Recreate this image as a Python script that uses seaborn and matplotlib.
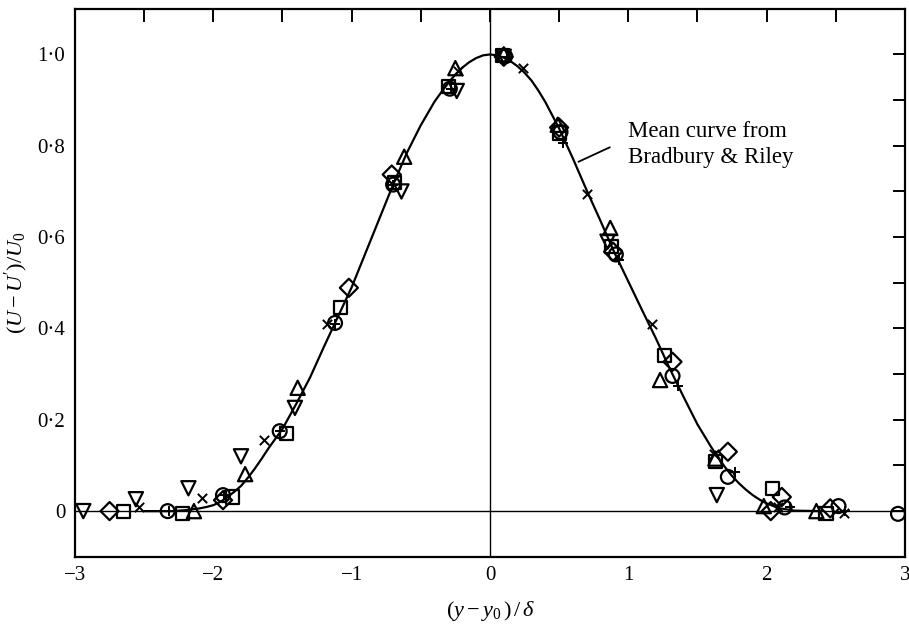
import matplotlib
matplotlib.use("Agg")
import matplotlib.pyplot as plt
import seaborn as sns
import numpy as np
from matplotlib.ticker import MultipleLocator, FixedLocator, FixedFormatter

# ---- data ----
curve_x = [-2.5, -2.3, -2.2, -2.1, -2.05, -2.0, -1.95, -1.9, -1.85, -1.8, -1.75, -1.7, -1.65, -1.6,
           -1.5, -1.4, -1.3, -1.2, -1.1, -1.0, -0.9, -0.8, -0.7, -0.6, -0.5, -0.4, -0.35, -0.3,
           -0.25, -0.2, -0.15, -0.1, -0.05, 0.0, 0.05, 0.1, 0.15, 0.2, 0.25, 0.3, 0.35, 0.4,
           0.5, 0.6, 0.7, 0.8, 0.9, 1.0, 1.1, 1.2, 1.3, 1.4, 1.5, 1.6, 1.65, 1.7, 1.75, 1.8,
           1.85, 1.9, 1.95, 2.0, 2.05, 2.1, 2.2, 2.4]
curve_y = [0.0, 0.0, 0.002, 0.006, 0.009, 0.013, 0.02, 0.03, 0.042, 0.055, 0.073, 0.093, 0.115, 0.138,
           0.18, 0.235, 0.293, 0.36, 0.425, 0.49, 0.565, 0.64, 0.715, 0.785, 0.845, 0.897, 0.918, 0.938,
           0.956, 0.971, 0.983, 0.992, 0.998, 1.0, 0.998, 0.993, 0.985, 0.974, 0.96, 0.943, 0.921, 0.896,
           0.838, 0.772, 0.702, 0.635, 0.566, 0.503, 0.44, 0.378, 0.312, 0.25, 0.19, 0.14, 0.117, 0.096,
           0.077, 0.061, 0.047, 0.035, 0.025, 0.017, 0.011, 0.006, 0.001, 0.0]

circle_x = [-2.33, -1.93, -1.52, -1.12, -0.70, -0.29, 0.11, 0.51, 0.91, 1.32, 1.72, 2.13, 2.52, 2.95]
circle_y = [0.0, 0.035, 0.175, 0.412, 0.715, 0.925, 0.996, 0.83, 0.562, 0.296, 0.075, 0.008, 0.011, -0.006]

square_x = [-2.65, -2.22, -1.86, -1.47, -1.08, -0.69, -0.30, 0.09, 0.50, 0.88, 1.26, 1.63, 2.04, 2.43]
square_y = [0.0, -0.005, 0.031, 0.17, 0.445, 0.72, 0.93, 0.997, 0.828, 0.58, 0.34, 0.108, 0.05, -0.005]

tri_up_x = [-2.14, -1.77, -1.39, -0.62, -0.25, 0.10, 0.49, 0.87, 1.23, 1.63, 1.98, 2.36]
tri_up_y = [0.0, 0.081, 0.27, 0.776, 0.97, 1.0, 0.846, 0.62, 0.287, 0.115, 0.011, 0.0]

tri_down_x = [-2.94, -2.56, -2.18, -1.80, -1.41, -0.64, -0.24, 0.10, 0.85, 1.64]
tri_down_y = [0.0, 0.026, 0.05, 0.12, 0.226, 0.70, 0.92, 0.995, 0.59, 0.035]

diamond_x = [-2.75, -1.93, -1.02, -0.71, 0.10, 0.50, 0.89, 1.32, 1.72, 2.03, 2.11, 2.46]
diamond_y = [0.0, 0.024, 0.489, 0.737, 0.995, 0.84, 0.568, 0.327, 0.13, 0.0, 0.031, 0.006]

cross_x = [-2.54, -2.08, -1.63, -1.18, -0.23, 0.24, 0.70, 1.17, 1.62, 2.08, 2.56]
cross_y = [0.01, 0.028, 0.156, 0.41, 0.963, 0.97, 0.695, 0.41, 0.125, 0.01, -0.004]

plus_x = [-2.32, -1.92, -1.52, -1.12, -0.70, -0.28, 0.12, 0.53, 0.93, 1.36, 1.77, 2.17, 2.57]
plus_y = [0.0, 0.035, 0.175, 0.41, 0.715, 0.925, 0.995, 0.807, 0.55, 0.274, 0.086, 0.01, 0.0]

x_tick_pos = [-3, -2, -1, 0, 1, 2, 3]
x_tick_labels = ["\u22123", "\u22122", "\u22121", "0", "1", "2", "3"]
y_tick_pos = [0.0, 0.2, 0.4, 0.6, 0.8, 1.0]
y_tick_labels = ["0", "0\u00b72", "0\u00b74", "0\u00b76", "0\u00b78", "1\u00b70"]

annot_text = "Mean curve from\nBradbury & Riley"

# ---- style ----
sns.set_theme(style="white")
plt.rcParams["font.family"] = ["Liberation Serif", "DejaVu Serif"]
plt.rcParams["mathtext.fontset"] = "custom"
plt.rcParams["mathtext.rm"] = "Liberation Serif"
plt.rcParams["mathtext.it"] = "Liberation Serif:italic"
plt.rcParams["mathtext.bf"] = "Liberation Serif:bold"

fig = plt.figure(figsize=(9.09, 6.27), dpi=100)
ax = fig.add_axes([0.0825, 0.112, 0.913, 0.874])

ax.axhline(0, color="black", lw=1.0, zorder=1)
ax.axvline(0, color="black", lw=1.0, zorder=1)

sns.lineplot(x=curve_x, y=curve_y, ax=ax, color="black", lw=1.6, sort=False,
             estimator=None, zorder=2)

open_kw = dict(facecolor="none", edgecolor="black", linewidth=1.6, zorder=3)
sns.scatterplot(x=circle_x, y=circle_y, marker="o", s=100, ax=ax, **open_kw)
sns.scatterplot(x=square_x, y=square_y, marker="s", s=90, ax=ax, **open_kw)
sns.scatterplot(x=tri_up_x, y=tri_up_y, marker="^", s=105, ax=ax, **open_kw)
sns.scatterplot(x=tri_down_x, y=tri_down_y, marker="v", s=105, ax=ax, **open_kw)
sns.scatterplot(x=diamond_x, y=diamond_y, marker="D", s=85, ax=ax, **open_kw)
sns.scatterplot(x=cross_x, y=cross_y, marker="x", s=45, color="black", linewidth=1.4, ax=ax, zorder=3)
sns.scatterplot(x=plus_x, y=plus_y, marker="+", s=60, color="black", linewidth=1.4, ax=ax, zorder=3)

ax.set_xlim(-3, 3)
ax.set_ylim(-0.1, 1.1)

ax.xaxis.set_major_locator(FixedLocator(x_tick_pos))
ax.xaxis.set_major_formatter(FixedFormatter(x_tick_labels))
ax.xaxis.set_minor_locator(MultipleLocator(0.5))
ax.yaxis.set_major_locator(FixedLocator(y_tick_pos))
ax.yaxis.set_major_formatter(FixedFormatter(y_tick_labels))
ax.yaxis.set_minor_locator(MultipleLocator(0.1))

ax.tick_params(which="both", direction="in", top=True, right=True, length=9,
               width=1.4, color="black", labelsize=15, labelcolor="black")
ax.tick_params(axis="y", pad=7)
ax.tick_params(axis="x", pad=7)

for sp in ax.spines.values():
    sp.set_visible(True)
    sp.set_color("black")
    sp.set_linewidth(1.6)

ax.set_xlabel(r"$(y-y_0\,)\,/\,\delta$", fontsize=16, color="black", labelpad=10)
ax.set_ylabel(r"$(U-U')/U_0$", fontsize=16, color="black", labelpad=5)

ax.annotate(annot_text, xy=(0.64, 0.765), xytext=(1.0, 0.803), textcoords="data",
            ha="left", va="center", fontsize=16.5, linespacing=1.3, color="black",
            arrowprops=dict(arrowstyle="-", color="black", lw=1.3,
                            relpos=(0, 0.62), shrinkA=12, shrinkB=0))

fig.savefig("out.png", dpi=100)
